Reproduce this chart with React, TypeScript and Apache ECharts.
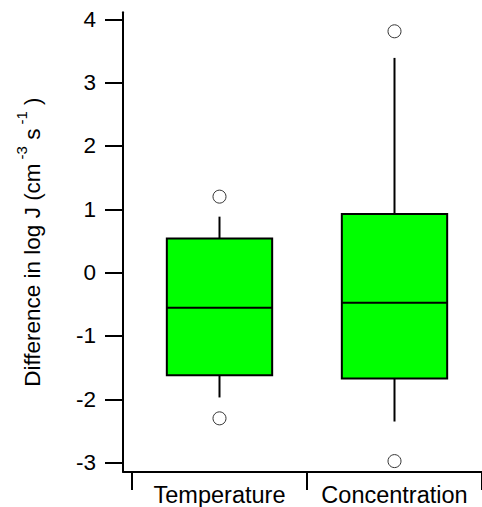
import React, { useEffect, useRef } from "react";
import * as echarts from "echarts";

const categories = ["Temperature", "Concentration"];
const whiskerLow = [-1.97, -2.35];
const q1 = [-1.62, -1.67];
const median = [-0.553, -0.474];
const q3 = [0.54, 0.925];
const whiskerHigh = [0.884, 3.39];
const outliers: [number, number][] = [
  [0, 1.2],
  [0, -2.3],
  [1, 3.81],
  [1, -2.975],
];
const yTicks = [-3, -2, -1, 0, 1, 2, 3, 4];

const FONT = "'Liberation Sans', Arial, Helvetica, sans-serif";

export default function App() {
  const ref = useRef<HTMLDivElement>(null);
  useEffect(() => {
    if (!ref.current) return;
    const chart = echarts.init(ref.current, null, { renderer: "svg" });
    const boxData = categories.map((_, i) => [
      i,
      whiskerLow[i],
      q1[i],
      median[i],
      q3[i],
      whiskerHigh[i],
    ]);
    chart.setOption({
      animation: false,
      backgroundColor: "#ffffff",
      textStyle: { fontFamily: FONT },
      grid: { left: 132, right: -2, top: 12.3, bottom: 35 },
      xAxis: {
        type: "category",
        data: categories,
        boundaryGap: true,
        axisLine: { show: true, onZero: false, lineStyle: { color: "#000", width: 2 } },
        axisTick: {
          show: true,
          length: 18,
          inside: false,
          alignWithLabel: false,
          lineStyle: { color: "#000", width: 2 },
        },
        axisLabel: {
          color: "#000",
          fontSize: 23.5,
          fontFamily: FONT,
          margin: 11,
          interval: 0,
        },
        splitLine: { show: false },
      },
      yAxis: {
        type: "value",
        min: -3.147,
        max: 4.11,
        offset: 9,
        axisLine: { show: true, lineStyle: { color: "#000", width: 2 } },
        axisTick: {
          show: true,
          length: 18,
          customValues: yTicks,
          lineStyle: { color: "#000", width: 2 },
        },
        axisLabel: {
          color: "#000",
          fontSize: 22.5,
          fontFamily: FONT,
          margin: 27,
          customValues: yTicks,
        },
        splitLine: { show: false },
        name: "Difference in log J (cm{sup|-3} s{sup|-1} )",
        nameLocation: "middle",
        nameRotate: 90,
        nameGap: 72,
        nameTextStyle: {
          color: "#000",
          fontSize: 22.5,
          fontFamily: FONT,
          rich: {
            sup: {
              fontSize: 15,
              fontFamily: FONT,
              color: "#000",
              padding: [0, 0, 22, 4],
            },
          },
        },
      },
      graphic: [
        {
          type: "line",
          shape: { x1: 122.5, y1: 472, x2: 133, y2: 472 },
          style: { stroke: "#000", lineWidth: 2 },
        },
      ],
      series: [
        {
          type: "custom",
          data: boxData,
          renderItem: (params: any, api: any) => {
            const x = api.value(0);
            const pLow = api.coord([x, api.value(1)]);
            const pQ1 = api.coord([x, api.value(2)]);
            const pMed = api.coord([x, api.value(3)]);
            const pQ3 = api.coord([x, api.value(4)]);
            const pHigh = api.coord([x, api.value(5)]);
            const bw = api.size([1, 0])[0] * 0.602;
            const cx = pMed[0];
            const lineStyle = { stroke: "#000", lineWidth: 2 };
            return {
              type: "group",
              children: [
                {
                  type: "line",
                  shape: { x1: cx, y1: pQ1[1], x2: cx, y2: pLow[1] },
                  style: lineStyle,
                },
                {
                  type: "line",
                  shape: { x1: cx, y1: pQ3[1], x2: cx, y2: pHigh[1] },
                  style: lineStyle,
                },
                {
                  type: "rect",
                  shape: {
                    x: cx - bw / 2,
                    y: pQ3[1],
                    width: bw,
                    height: pQ1[1] - pQ3[1],
                  },
                  style: { fill: "#00ff00", stroke: "#000", lineWidth: 2 },
                },
                {
                  type: "line",
                  shape: {
                    x1: cx - bw / 2,
                    y1: pMed[1],
                    x2: cx + bw / 2,
                    y2: pMed[1],
                  },
                  style: lineStyle,
                },
              ],
            };
          },
        },
        {
          type: "scatter",
          data: outliers,
          symbol: "circle",
          symbolSize: 13,
          itemStyle: {
            color: "#ffffff",
            borderColor: "#333",
            borderWidth: 1,
            opacity: 1,
          },
        },
      ],
    });
    return () => chart.dispose();
  }, []);
  return (
    <div
      ref={ref}
      style={{ position: "absolute", left: 0, top: 0, width: 482, height: 507 }}
    />
  );
}
